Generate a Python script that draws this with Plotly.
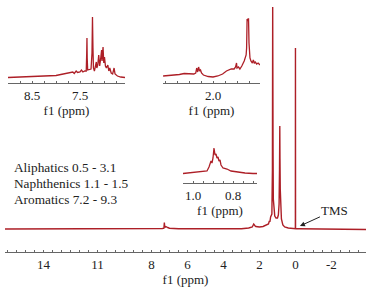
import plotly.graph_objects as go

W, H = 374, 293
RED = "#ad1f27"
FONT = "Times New Roman, Times, serif"

# ---- data: (ppm, intensity) ----
main_ppm = [16.14, 8.0, 7.4, 7.31, 7.285, 7.26, 7.2, 7.1, 7.0, 6.5, 5.0, 3.0, 2.6, 2.4, 2.32, 2.28, 2.24, 2.2,
            2.0, 1.8, 1.6, 1.5, 1.45, 1.42, 1.38, 1.34, 1.31, 1.28, 1.265, 1.255, 1.245, 1.23, 1.2, 1.15, 1.08, 1.0,
            0.95, 0.91, 0.885, 0.87, 0.86, 0.845, 0.82, 0.78, 0.7, 0.6, 0.4, 0.1, 0.005, 0.0, -0.005, -0.2, -2.0, -3.92]
main_int = [0, 0, 0.5, 0.8, 6.5, 1.5, 2.5, 1.5, 0.8, 0.3, 0, 0.3, 1, 2, 5, 3.5, 3, 2.5,
            2, 2.5, 4, 5, 8, 7, 12, 13, 15, 60, 222, 150, 80, 30, 18, 13, 11, 11,
            14, 25, 60, 103, 70, 40, 20, 10, 4, 2, 1, 0.5, 0.3, 181, 0.3, 0.2, 0, -0.5]

aro_ppm = [9.0, 8.8, 8.6, 8.4, 8.2, 8.0, 7.9, 7.8, 7.7, 7.65, 7.62, 7.58, 7.55, 7.5, 7.47, 7.44, 7.40, 7.37,
           7.36, 7.355, 7.35, 7.34, 7.3, 7.27, 7.25, 7.24, 7.23, 7.22, 7.2, 7.18, 7.16, 7.15, 7.13, 7.11, 7.09,
           7.07, 7.05, 7.04, 7.03, 7.02, 7.005, 6.99, 6.97, 6.95, 6.92, 6.90, 6.88, 6.85, 6.82, 6.79, 6.77,
           6.72, 6.65, 6.6, 6.5625]
aro_int = [5.5, 5.8, 6, 6.3, 6.5, 7.5, 8.5, 9.5, 10, 11, 9.5, 12, 10.5, 11, 13, 11, 12, 12,
           30, 45, 25, 13, 14, 14, 30, 66, 35, 15, 12, 16, 21, 15, 18, 28, 17,
           24, 33, 22, 28, 36, 20, 26, 17, 15, 18, 12, 15, 10, 9, 15, 9,
           7, 6, 5.8, 5.5]

ali_ppm = [3.04, 2.9, 2.8, 2.7, 2.6, 2.5, 2.4, 2.36, 2.34, 2.32, 2.30, 2.28, 2.26, 2.24, 2.2, 2.1, 2.0, 1.9,
           1.8, 1.72, 1.68, 1.62, 1.56, 1.53, 1.51, 1.50, 1.47, 1.44, 1.40, 1.35, 1.31, 1.30, 1.29, 1.28,
           1.27, 1.26, 1.25, 1.23, 1.21, 1.18, 1.16, 1.14, 1.12, 1.09, 1.06, 1.021]
ali_int = [7, 7.5, 8, 8.5, 9.5, 9.5, 9, 10, 15, 11, 16, 12, 13, 10, 8, 6.5, 6, 7,
           9, 12, 13, 14, 14, 16, 20, 15, 16, 14, 17, 22, 28, 35, 64, 62,
           64, 64, 40, 25, 22, 20, 23, 20, 21, 19, 20, 18]

mid_ppm = [1.05, 1.02, 0.98, 0.94, 0.93, 0.92, 0.91, 0.905, 0.90, 0.895, 0.89, 0.885, 0.88, 0.875, 0.87,
           0.865, 0.86, 0.85, 0.83, 0.81, 0.78, 0.74, 0.70, 0.68]
mid_int = [9.5, 10, 11, 11.5, 12, 16, 22, 20, 25, 35, 28, 29, 25, 26, 22,
           23, 18, 15, 14, 12, 11, 10, 9.5, 9.5]

main_ticks = [14, 11, 8, 6, 4, 2, 0, -2]
aro_ticks = [8.5, 7.5]
ali_ticks = [2.0]
mid_ticks = [1.0, 0.8]

labels = ["Aliphatics 0.5 - 3.1", "Naphthenics 1.1 - 1.5", "Aromatics 7.2 - 9.3"]


def px(x):
    return x / W


def py(y):
    return 1 - y / H


fig = go.Figure()
fig.add_trace(go.Scatter(x=main_ppm, y=main_int, mode="lines", line=dict(color=RED, width=1.4),
                         xaxis="x", yaxis="y", hoverinfo="skip"))
fig.add_trace(go.Scatter(x=aro_ppm, y=aro_int, mode="lines", line=dict(color=RED, width=1.3),
                         xaxis="x2", yaxis="y2", hoverinfo="skip"))
fig.add_trace(go.Scatter(x=ali_ppm, y=ali_int, mode="lines", line=dict(color=RED, width=1.3),
                         xaxis="x3", yaxis="y3", hoverinfo="skip"))
fig.add_trace(go.Scatter(x=mid_ppm, y=mid_int, mode="lines", line=dict(color=RED, width=1.3),
                         xaxis="x4", yaxis="y4", hoverinfo="skip"))


def xax(domain, rng, ticks, fmt, anchor, minor_dt):
    return dict(domain=domain, range=rng, anchor=anchor, showgrid=False, zeroline=False, automargin=False,
                showline=True, linecolor="#666", linewidth=1,
                tickmode="array", tickvals=ticks, ticktext=[fmt.format(t) for t in ticks],
                ticks="inside", ticklen=2, tickcolor="#666", tickwidth=1,
                minor=dict(tickmode="linear", tick0=0, dtick=minor_dt, ticks="inside", ticklen=2,
                           tickcolor="#666", tickwidth=1, showgrid=False),
                tickfont=dict(family=FONT, size=13, color="#222"),
                title=dict(text="f1 (ppm)", font=dict(family=FONT, size=13, color="#222"), standoff=0))


def yax(domain, rng, anchor):
    return dict(domain=domain, range=rng, anchor=anchor, visible=False, showgrid=False, zeroline=False,
                automargin=False)


fig.update_layout(
    width=W, height=H, margin=dict(l=0, r=0, t=0, b=0, autoexpand=False),
    paper_bgcolor="white", plot_bgcolor="white", showlegend=False,
    xaxis=xax([px(5), px(366)], [16.14, -3.92], main_ticks, "{:g}", "y", 0.5),
    yaxis=yax([py(252), 1], [-23, 229], "x"),
    xaxis2=xax([px(8), px(125)], [9.0, 6.5625], aro_ticks, "{:.1f}", "y2", 0.25),
    yaxis2=yax([py(83), py(10)], [0, 73], "x2"),
    xaxis3=xax([px(163), px(260)], [3.042, 1.021], ali_ticks, "{:.1f}", "y3", 0.25),
    yaxis3=yax([py(83), py(10)], [0, 73], "x3"),
    xaxis4=xax([px(183), px(257)], [1.05, 0.68], mid_ticks, "{:.1f}", "y4", 0.05),
    yaxis4=yax([py(183), py(140)], [0, 43], "x4"),
)

for i, t in enumerate(labels):
    fig.add_annotation(text=t, xref="paper", yref="paper", x=px(12), y=py(167 + 16 * i),
                       xanchor="left", yanchor="middle", showarrow=False,
                       font=dict(family=FONT, size=13.3, color="#222"))

fig.add_annotation(text="TMS", xref="x", yref="y", x=-0.25, y=3, ax=35, ay=-16,
                   showarrow=True, arrowhead=2, arrowsize=1, arrowwidth=1, arrowcolor="#222",
                   font=dict(family=FONT, size=13, color="#222"))

fig.write_html("out.html", config={"displayModeBar": False},
               post_script="document.body.style.margin='0';")
